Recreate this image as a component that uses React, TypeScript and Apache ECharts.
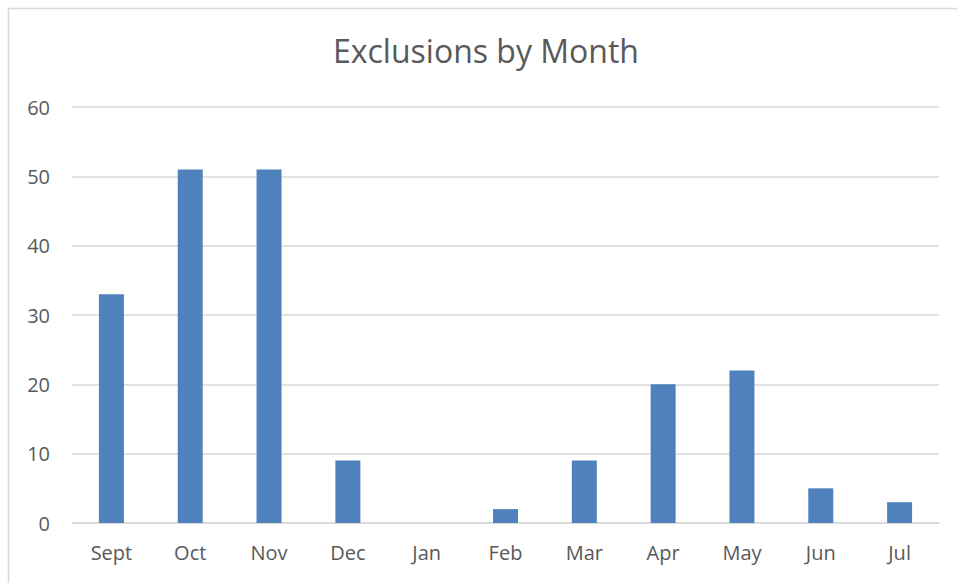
import React, { useEffect, useRef } from "react";
import * as echarts from "echarts";

const categories = ["Sept", "Oct", "Nov", "Dec", "Jan", "Feb", "Mar", "Apr", "May", "Jun", "Jul"];
const exclusions = [33, 51, 51, 9, 0, 2, 9, 20, 22, 5, 3];
const titleText = "Exclusions by Month";

export default function App() {
  const ref = useRef<HTMLDivElement>(null);
  useEffect(() => {
    if (!ref.current) return;
    const chart = echarts.init(ref.current, null, { renderer: "svg" });
    const font = "Open Sans, Liberation Sans, sans-serif";
    chart.setOption({
      animation: false,
      backgroundColor: "#ffffff",
      title: {
        text: titleText,
        left: 333,
        top: 34,
        padding: 0,
        textStyle: { fontFamily: font, fontSize: 32, fontWeight: "normal", color: "#595959" },
      },
      graphic: [
        {
          type: "rect",
          shape: { x: 8.5, y: 8.5, width: 1000, height: 1000 },
          style: { fill: "none", stroke: "#d9d9d9", lineWidth: 1.5 },
          silent: true,
        },
      ],
      grid: { left: 72, right: 18, top: 107, bottom: 60, containLabel: false },
      xAxis: {
        type: "category",
        data: categories,
        axisLine: { lineStyle: { color: "#d9d9d9", width: 1.5 } },
        axisTick: { show: false },
        axisLabel: { fontFamily: font, fontSize: 20, color: "#595959", margin: 19 },
      },
      yAxis: {
        type: "value",
        min: 0,
        max: 60,
        interval: 10,
        axisLine: { show: false },
        axisTick: { show: false },
        splitLine: { lineStyle: { color: "#d9d9d9", width: 1.5 } },
        axisLabel: { fontFamily: font, fontSize: 20, color: "#595959", margin: 22 },
      },
      series: [
        {
          type: "bar",
          data: exclusions,
          barWidth: 25,
          itemStyle: { color: "#4f81bd" },
        },
      ],
    });
    return () => chart.dispose();
  }, []);
  return <div ref={ref} style={{ position: "fixed", left: 0, top: 0, width: 957, height: 583 }} />;
}
